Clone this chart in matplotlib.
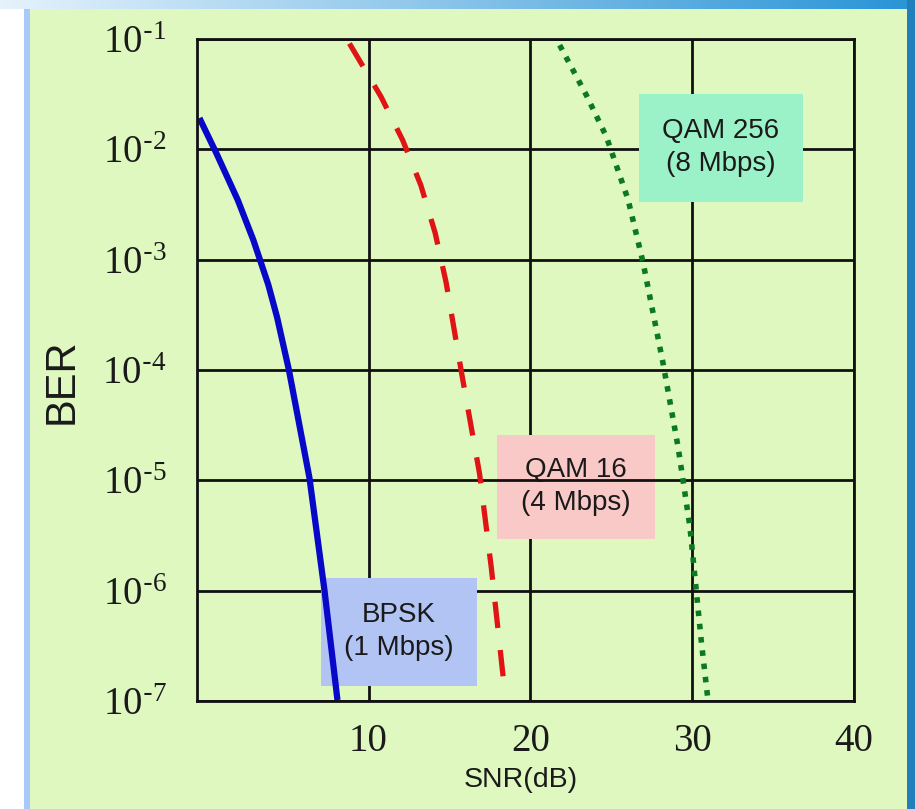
import numpy as np
import matplotlib
matplotlib.use("Agg")
import matplotlib.pyplot as plt
from matplotlib.patches import Rectangle

# ---- data ----
bpsk_snr = [-0.45, 0.6, 1.92, 2.88, 3.34, 3.81, 4.35, 5.08, 6.35, 7.28, 8.08]
bpsk_ber = [1.92e-2, 9.2e-3, 3.47e-3, 1.51e-3, 9.5e-4, 5.9e-4, 3.0e-4, 1e-4,
            1.05e-5, 1.0e-6, 1.02e-7]

qam16_snr = [8.82, 10.77, 12.11, 13.23, 14.12, 14.79, 15.75, 16.86, 17.59, 18.35]
qam16_ber = [9.1e-2, 3.0e-2, 1.21e-2, 4.74e-3, 1.74e-3, 6.26e-4, 9.4e-5, 1.15e-5,
             1.6e-6, 1.5e-7]

qam256_snr = [21.81, 23.46, 24.70, 26.04, 26.96, 28.2, 29.13, 29.86, 30.58, 30.95]
qam256_ber = [8.8e-2, 3.1e-2, 1.3e-2, 3.5e-3, 9.5e-4, 1.15e-4, 2.0e-5, 3.8e-6,
              3.3e-7, 1.1e-7]

x_ticks = [10, 20, 30, 40]
y_exponents = [1, 2, 3, 4, 5, 6, 7]
y_ticks = [10.0 ** -e for e in y_exponents]
y_ticklabels = [r"$\mathregular{10^{\text{-}%d}}$" % e for e in y_exponents]

labels = ["BPSK\n(1 Mbps)", "QAM 16\n(4 Mbps)", "QAM 256\n(8 Mbps)"]

# ---- figure ----
W, H = 915, 809
fig = plt.figure(figsize=(W / 100, H / 100), dpi=100)

# background frame (decoration)
img = np.ones((H, W, 3))
xs = np.linspace(0, 1, W)
top_l = np.array([0.90, 0.95, 0.99])
top_r = np.array([0.16, 0.58, 0.84])
img[0:9, :, :] = (top_l[None, :] * (1 - xs[:, None]) + top_r[None, :] * xs[:, None])[None, :, :]
img[9:, 24:30, :] = np.array([0.66, 0.79, 0.98])
img[:, 907:, :] = np.array([0.14, 0.50, 0.74])
img[9:, 30:907, :] = np.array([0.875, 0.976, 0.755])
bg = fig.add_axes([0, 0, 1, 1])
bg.imshow(img, aspect="auto", interpolation="bilinear")
bg.axis("off")
bg.set_zorder(-1)

ax_l, ax_r, ax_t, ax_b = 197, 854, 39, 701
ax = fig.add_axes([ax_l / W, 1 - ax_b / H, (ax_r - ax_l) / W, (ax_b - ax_t) / H])
ax.set_facecolor("none")
ax.set_yscale("log")
ax.set_xlim(-0.6, 40)
ax.set_ylim(1e-7, 1e-1)
ax.set_xticks(x_ticks)
ax.set_yticks(y_ticks)
ax.set_yticklabels(y_ticklabels)
ax.yaxis.set_minor_locator(matplotlib.ticker.NullLocator())
ax.tick_params(axis="both", which="both", length=0)
ax.tick_params(axis="y", pad=22)
ax.tick_params(axis="x", pad=16)
for lab in ax.get_xticklabels() + ax.get_yticklabels():
    lab.set_fontfamily(["Liberation Serif", "DejaVu Serif"])
    lab.set_fontsize(28)
    lab.set_color("#1a1a1a")

ax.grid(True, color="#111111", linewidth=2.0)
ax.xaxis.set_zorder(1)
ax.yaxis.set_zorder(3)
for sp in ax.spines.values():
    sp.set_color("#111111")
    sp.set_linewidth(2.0)
    sp.set_zorder(6)

# curves
ax.plot(bpsk_snr, bpsk_ber, color="#0808C8", linewidth=4.5, zorder=5,
        solid_capstyle="butt", solid_joinstyle="round")
ax.plot(qam16_snr, qam16_ber, color="#E01414", linewidth=3.8, zorder=5,
        dashes=(5, 4.2), dash_capstyle="butt")
ax.plot(qam256_snr, qam256_ber, color="#0B7A1F", linewidth=4.0, zorder=5,
        dashes=(1, 1.4), dash_capstyle="butt")

# label boxes
def box(x0, x1, y0, y1, color, text, z):
    ax.add_patch(Rectangle((x0, y0), x1 - x0, y1 - y0, transform=ax.transAxes,
                           facecolor=color, edgecolor="none", zorder=z))
    ax.text((x0 + x1) / 2, (y0 + y1) / 2, text, transform=ax.transAxes,
            ha="center", va="center", fontsize=20, family="Liberation Sans",
            color="#1a1a1a", linespacing=1.35, zorder=z + 0.1)

box(0.189, 0.426, 0.023, 0.186, "#B2C4F4", labels[0], 4)
box(0.457, 0.697, 0.245, 0.402, "#F8C9C6", labels[1], 2.5)
box(0.673, 0.922, 0.754, 0.917, "#9CF2C8", labels[2], 4)

# axis labels
fig.text(62 / W, 1 - 381 / H, "BER", rotation=90, ha="center", va="center",
         fontsize=30, family="Liberation Sans", color="#1a1a1a")
fig.text(521 / W, 1 - 780 / H, "SNR(dB)", ha="center", va="center",
         fontsize=20.5, family="Liberation Sans", color="#1a1a1a")

fig.savefig("out.png", dpi=100)
